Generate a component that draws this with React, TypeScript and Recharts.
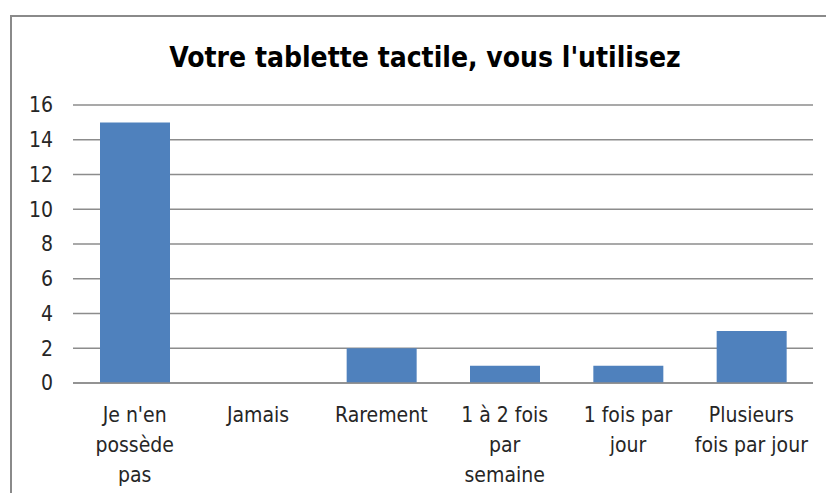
import React from "react";
import { BarChart, Bar, XAxis, YAxis, CartesianGrid } from "recharts";

const categories = [
  "Je n'en possède pas",
  "Jamais",
  "Rarement",
  "1 à 2 fois par semaine",
  "1 fois par jour",
  "Plusieurs fois par jour",
];
const counts = [15, 0, 2, 1, 1, 3];
const yTicks = [0, 2, 4, 6, 8, 10, 12, 14, 16];
// how each label wraps under its bar
const labelLines: Record<string, string[]> = {
  "Je n'en possède pas": ["Je n'en", "possède", "pas"],
  Jamais: ["Jamais"],
  Rarement: ["Rarement"],
  "1 à 2 fois par semaine": ["1 à 2 fois", "par", "semaine"],
  "1 fois par jour": ["1 fois par", "jour"],
  "Plusieurs fois par jour": ["Plusieurs", "fois par jour"],
};

const data = categories.map((name, i) => ({ name, value: counts[i] }));

const FONT = "'Liberation Sans Narrow', 'DejaVu Sans Condensed', 'Open Sans', sans-serif";

const XTick = (props: any) => {
  const { x, y, payload } = props;
  const lines = labelLines[payload.value] ?? [payload.value];
  return (
    <g transform={`translate(${x},${y})`}>
      {lines.map((l, i) => (
        <text
          key={i}
          x={0}
          y={i * 30}
          dy={31}
          textAnchor="middle"
          fill="#262626"
          fontSize={21}
          fontFamily={FONT}
        >
          {l}
        </text>
      ))}
    </g>
  );
};

export default function App() {
  return (
    <div style={{ position: "absolute", left: 0, top: 0, width: 826, height: 493, overflow: "hidden", background: "#fff" }}>
      <div
        style={{
          position: "absolute",
          left: 10,
          top: 15,
          width: 840,
          height: 520,
          border: "2px solid #8a8a8a",
        }}
      />
      <div
        style={{
          position: "absolute",
          left: 0,
          top: 41,
          width: 850,
          textAlign: "center",
          fontFamily: FONT,
          fontWeight: "bold",
          fontSize: 28,
          color: "#000",
        }}
      >
        Votre tablette tactile, vous l'utilisez
      </div>
      <div style={{ position: "absolute", left: 0, top: 0 }}>
        <BarChart
          width={826}
          height={493}
          data={data}
          margin={{ top: 105, right: 13, left: 10, bottom: 0 }}
          barSize={70}
        >
          <CartesianGrid vertical={false} stroke="#8c8c8c" strokeWidth={1.5} />
          <XAxis
            dataKey="name"
            axisLine={{ stroke: "#8c8c8c", strokeWidth: 1.5 }}
            tickLine={false}
            tick={<XTick />}
            interval={0}
            height={110}
          />
          <YAxis
            width={63}
            domain={[0, 16]}
            ticks={yTicks}
            interval={0}
            axisLine={false}
            tickLine={false}
            tickSize={0}
            tickMargin={20}
            tick={{ fill: "#262626", fontSize: 21, fontFamily: FONT }}
          />
          <Bar dataKey="value" fill="#4f81bd" isAnimationActive={false} />
        </BarChart>
      </div>
    </div>
  );
}
